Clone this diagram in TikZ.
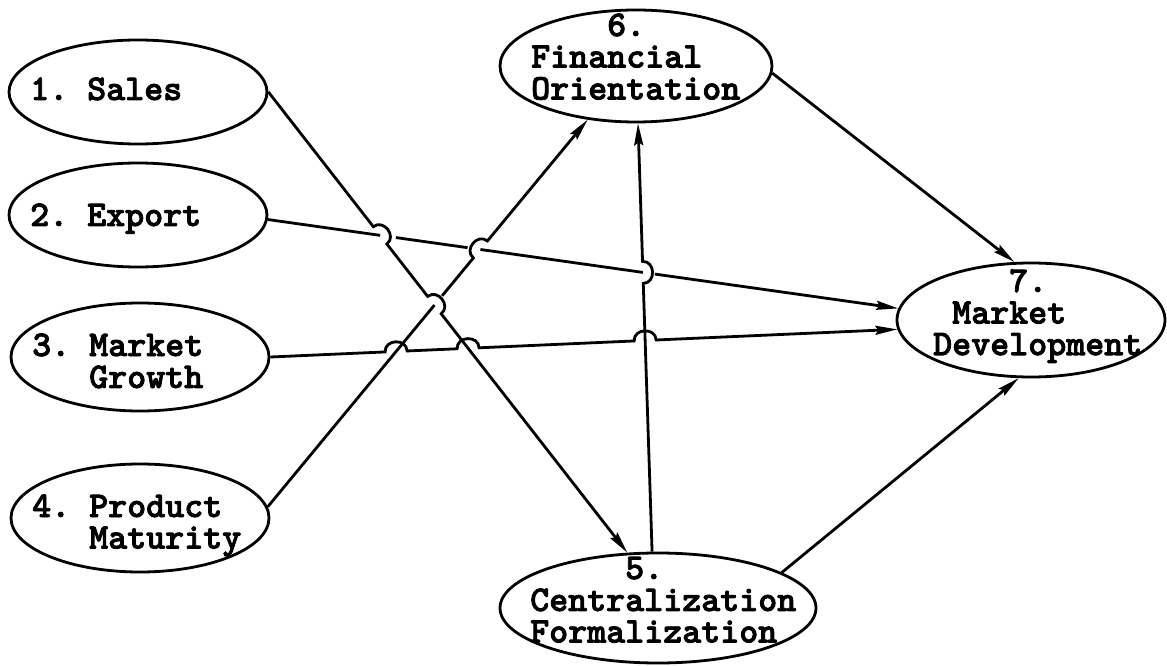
\documentclass[tikz,border=0pt]{standalone}
\usepackage{fontspec}
\newfontfamily\lblfont{lmmonolt10-bold.otf}[FakeBold=2.2]
\usetikzlibrary{shapes.geometric,arrows.meta,calc,intersections}
\begin{document}
\begin{tikzpicture}[x=1pt,y=1pt,
  blob/.style={draw, ellipse, line width=2.8pt, inner sep=0pt},
  lbl/.style={inner sep=0pt, anchor=base west,
    font=\lblfont\fontsize{36.2}{31.5}\selectfont\frenchspacing},
  conn/.style={line width=2.8pt, -{Stealth[length=22pt,width=9pt,inset=3pt]}},
  hop/.style={bend left=90, looseness=1.5},
  hopr/.style={bend right=90, looseness=1.5}]
\useasboundingbox (0,0) rectangle (1167,665);

% construct ellipses
\node[blob, minimum width=258pt, minimum height=104pt] (n1) at (138,573) {};
\node[blob, minimum width=258pt, minimum height=104pt] (n2) at (138,450) {};
\node[blob, minimum width=258pt, minimum height=108pt] (n3) at (140,308) {};
\node[blob, minimum width=258pt, minimum height=108pt] (n4) at (140,147) {};
\node[blob, minimum width=272pt, minimum height=112pt] (n6) at (636,599) {};
\node[blob, minimum width=316pt, minimum height=110pt] (n5) at (658,57) {};
\node[blob, minimum width=268pt, minimum height=114pt] (n7) at (1031,345) {};

% labels
\node[lbl] (t1) at (30,565) {1. Sales};
\node[lbl] (t2) at (30,439) {2. Export};
\node[lbl] (t3) at (32,309) {\begin{tabular}[t]{@{}l@{}}3. Market\\\hphantom{000}Growth\end{tabular}};
\node[lbl] (t4) at (32,148) {\begin{tabular}[t]{@{}l@{}}4. Product\\\hphantom{000}Maturity\end{tabular}};
\node[lbl] (t6) at (531,629) {\begin{tabular}[t]{@{}l@{}}\hphantom{0000}6.\\Financial\\Orientation\end{tabular}};
\node[lbl] (t5) at (530,86) {\begin{tabular}[t]{@{}l@{}}\hphantom{00000}5.\\Centralization\\Formalization\end{tabular}};
\node[lbl] (t7) at (933,373) {\begin{tabular}[t]{@{}l@{}}\hphantom{0000}7.\\\hphantom{0}Market\\Development\end{tabular}};

% path skeletons for crossing points
\path[name path=p1] (n1.east) -- (n5.119);
\path[name path=p2] (n2.-2) -- (n7.175);
\path[name path=p3] (n3.east) -- (n7.184);
\path[name path=p4] (n4.5) -- (n6.228);
\path[name path=p5] (n5.96) -- (n6.272);
\path[name intersections={of=p1 and p2, by=xa}];
\path[name intersections={of=p4 and p2, by=xb}];
\path[name intersections={of=p1 and p4, by=xc}];
\path[name intersections={of=p4 and p3, by=xd}];
\path[name intersections={of=p1 and p3, by=xe}];
\path[name intersections={of=p5 and p2, by=xf}];
\path[name intersections={of=p5 and p3, by=xg}];

% 1 -> 5
\draw[conn] (n1.east) -- ($(xa)!11pt!(n1.east)$) to[hop] ($(xa)!11pt!(n5.119)$)
  -- ($(xc)!11pt!(n1.east)$) to[hop] ($(xc)!11pt!(n5.119)$) -- (n5.119);
% 2 -> 7
\draw[conn] (n2.-2) -- (xa) ($(xa)!16pt!(n7.175)$) -- ($(xb)!13pt!(n2.-2)$)
  (xb) -- (xf) ($(xf)!12pt!(n7.175)$) -- (n7.175);
% 3 -> 7
\draw[conn] (n3.east) -- ($(xd)!11pt!(n3.east)$) to[hop] ($(xd)!11pt!(n7.184)$)
  -- ($(xe)!11pt!(n3.east)$) to[hop] ($(xe)!11pt!(n7.184)$)
  -- ($(xg)!11pt!(n3.east)$) to[hop] ($(xg)!11pt!(n7.184)$) -- (n7.184);
% 4 -> 6
\draw[conn] (n4.5) -- (xc) ($(xc)!12pt!(n6.228)$) -- ($(xb)!11pt!(n4.5)$)
  to[hop] ($(xb)!11pt!(n6.228)$) -- (n6.228);
% 5 -> 6
\draw[conn] (n5.96) -- ($(xf)!11pt!(n5.96)$) to[hopr] ($(xf)!11pt!(n6.272)$) -- (n6.272);
% 6 -> 7 and 5 -> 7
\draw[conn] (n6.-3) -- (n7.106);
\draw[conn] (n5.16) -- (n7.258);
\end{tikzpicture}
\end{document}
